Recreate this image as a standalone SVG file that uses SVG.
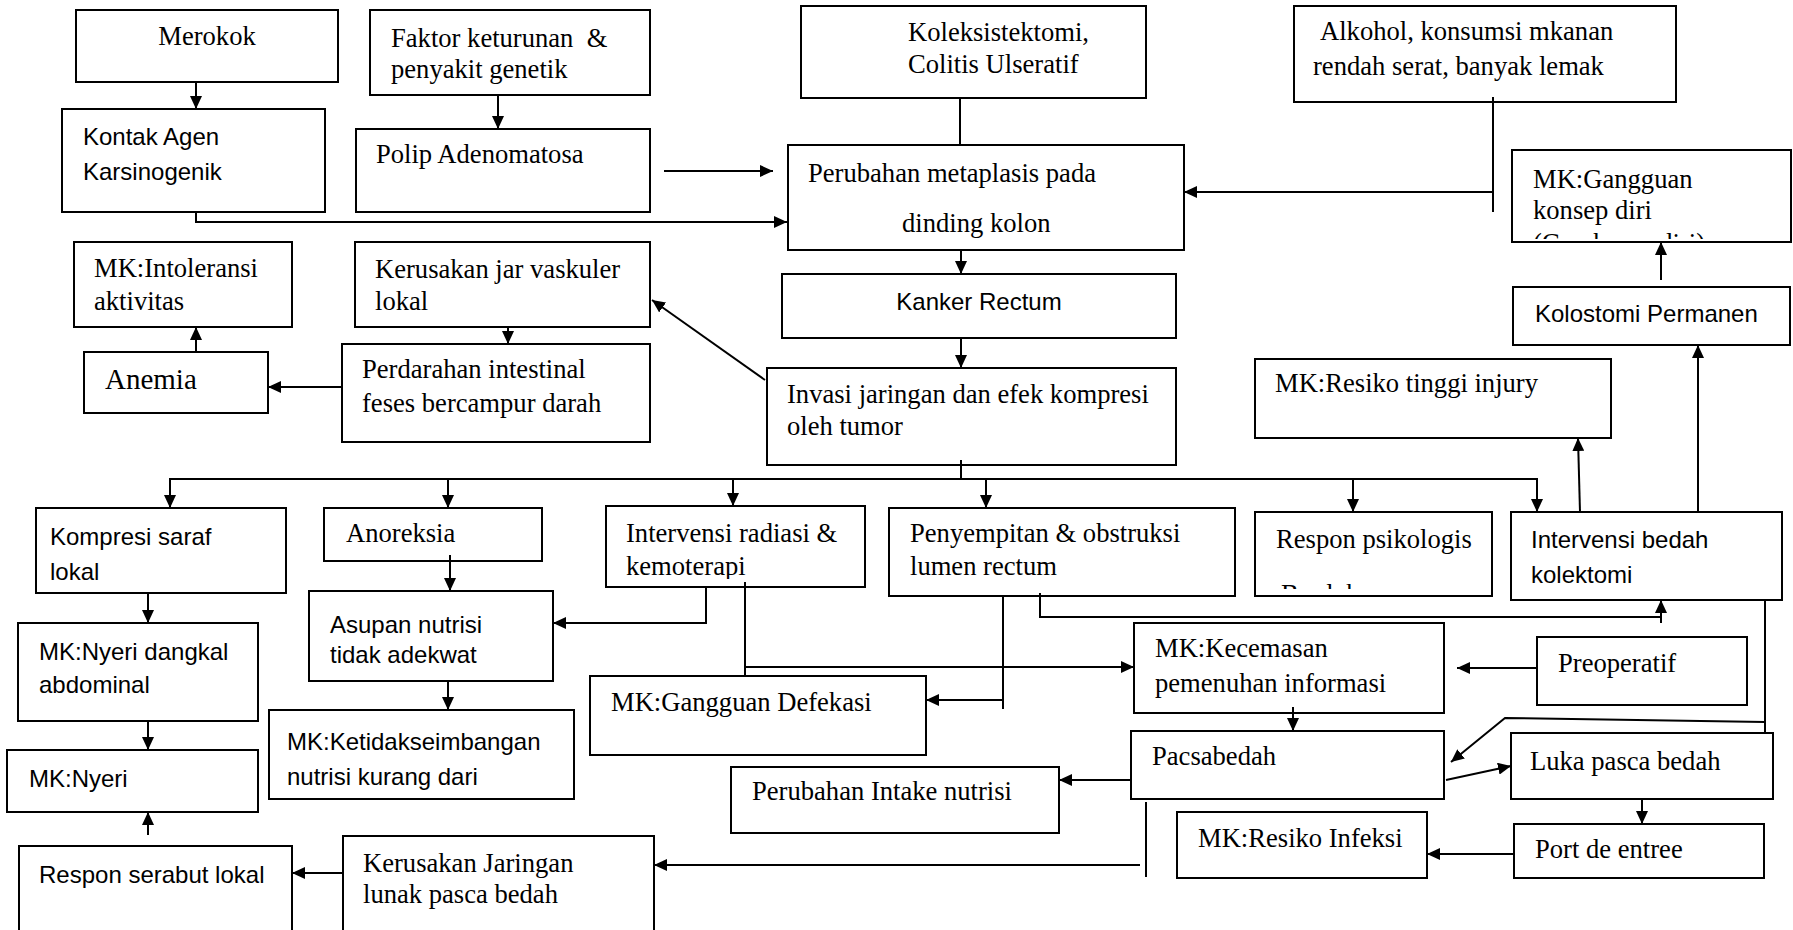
<svg xmlns="http://www.w3.org/2000/svg" width="1793" height="930" viewBox="0 0 1793 930">
<style>
rect.b{fill:#fff;stroke:#000;stroke-width:2}
text{fill:#000}
.s{font-family:"Liberation Serif","Times New Roman",serif;font-size:26.6px}
.a{font-family:"Liberation Sans",Arial,sans-serif;font-size:24px}
.c line,.c polyline{stroke:#000;stroke-width:2;fill:none}
</style>
<defs>
<marker id="ah" markerUnits="userSpaceOnUse" viewBox="0 0 13 12" refX="13" refY="6" markerWidth="13" markerHeight="12" orient="auto">
<path d="M0,0 L13,6 L0,12 z" fill="#000"/>
</marker>
<clipPath id="clipG"><rect x="1512" y="150" width="279" height="89"/></clipPath>
<clipPath id="clipR"><rect x="1255" y="512" width="237" height="77"/></clipPath>
<clipPath id="clipK"><rect x="606" y="506" width="259" height="73"/></clipPath>
</defs>
<rect width="1793" height="930" fill="#fff"/>

<g id="merokok"><rect class="b" x="76" y="10" width="262" height="72"/><text class="s" x="207" y="45" text-anchor="middle">Merokok</text></g>
<g id="kontak"><rect class="b" x="62" y="109" width="263" height="103"/><text class="a" x="83" y="145">Kontak Agen</text><text class="a" x="83" y="180">Karsinogenik</text></g>
<g id="faktor"><rect class="b" x="370" y="10" width="280" height="85"/><text class="s" x="391" y="47" style="white-space:pre" xml:space="preserve">Faktor keturunan  &amp;</text><text class="s" x="391" y="78">penyakit genetik</text></g>
<g id="polip"><rect class="b" x="356" y="129" width="294" height="83"/><text class="s" x="376" y="163">Polip Adenomatosa</text></g>
<g id="koleks"><rect class="b" x="801" y="6" width="345" height="92"/><text class="s" x="908" y="41">Koleksistektomi,</text><text class="s" x="908" y="73">Colitis Ulseratif</text></g>
<g id="alkohol"><rect class="b" x="1294" y="6" width="382" height="96"/><text class="s" x="1320" y="40">Alkohol, konsumsi mkanan</text><text class="s" x="1313" y="75">rendah serat, banyak lemak</text></g>
<g id="perubahan"><rect class="b" x="788" y="145" width="396" height="105"/><text class="s" x="808" y="182">Perubahan metaplasis pada</text><text class="s" x="902" y="232">dinding kolon</text></g>
<g id="gangguan-konsep"><rect class="b" x="1512" y="150" width="279" height="92"/><text class="s" x="1533" y="188">MK:Gangguan</text><text class="s" x="1533" y="219">konsep diri</text><text class="s" x="1533" y="252" clip-path="url(#clipG)">(Gambaran diri)</text></g>
<g id="kolostomi"><rect class="b" x="1513" y="287" width="277" height="58"/><text class="a" x="1535" y="322">Kolostomi Permanen</text></g>
<g id="injury"><rect class="b" x="1255" y="359" width="356" height="79"/><text class="s" x="1275" y="392">MK:Resiko tinggi injury</text></g>
<g id="kanker"><rect class="b" x="782" y="274" width="394" height="64"/><text class="a" x="979" y="310" text-anchor="middle">Kanker Rectum</text></g>
<g id="invasi"><rect class="b" x="767" y="368" width="409" height="97"/><text class="s" x="787" y="403">Invasi jaringan dan efek kompresi</text><text class="s" x="787" y="435">oleh tumor</text></g>
<g id="intoleransi"><rect class="b" x="74" y="242" width="218" height="85"/><text class="s" x="94" y="277">MK:Intoleransi</text><text class="s" x="94" y="310">aktivitas</text></g>
<g id="kerusakan-vaskuler"><rect class="b" x="355" y="242" width="295" height="85"/><text class="s" x="375" y="278">Kerusakan jar vaskuler</text><text class="s" x="375" y="310">lokal</text></g>
<g id="anemia"><rect class="b" x="84" y="352" width="184" height="61"/><text class="s" x="105" y="389" style="font-size:29px">Anemia</text></g>
<g id="perdarahan"><rect class="b" x="342" y="344" width="308" height="98"/><text class="s" x="362" y="378">Perdarahan intestinal</text><text class="s" x="362" y="412">feses bercampur darah</text></g>
<g id="kompresi"><rect class="b" x="36" y="508" width="250" height="85"/><text class="a" x="50" y="545">Kompresi saraf</text><text class="a" x="50" y="580">lokal</text></g>
<g id="anoreksia"><rect class="b" x="324" y="508" width="218" height="53"/><text class="s" x="346" y="542">Anoreksia</text></g>
<g id="radiasi"><rect class="b" x="606" y="506" width="259" height="81"/><text class="s" x="626" y="542">Intervensi radiasi &amp;</text><text class="s" x="626" y="575" clip-path="url(#clipK)">kemoterapi</text></g>
<g id="penyempitan"><rect class="b" x="889" y="508" width="346" height="88"/><text class="s" x="910" y="542">Penyempitan &amp; obstruksi</text><text class="s" x="910" y="575">lumen rectum</text></g>
<g id="respon-psikologis"><rect class="b" x="1255" y="512" width="237" height="84"/><text class="s" x="1276" y="548">Respon psikologis</text><text class="s" x="1281" y="603" clip-path="url(#clipR)">Berduka</text></g>
<g id="bedah"><rect class="b" x="1511" y="512" width="271" height="88"/><text class="a" x="1531" y="548">Intervensi bedah</text><text class="a" x="1531" y="583">kolektomi</text></g>
<g id="asupan"><rect class="b" x="309" y="591" width="244" height="90"/><text class="a" x="330" y="633">Asupan nutrisi</text><text class="a" x="330" y="663">tidak adekwat</text></g>
<g id="nyeri-dangkal"><rect class="b" x="18" y="623" width="240" height="98"/><text class="a" x="39" y="660">MK:Nyeri dangkal</text><text class="a" x="39" y="693">abdominal</text></g>
<g id="ketidakseimbangan"><rect class="b" x="269" y="710" width="305" height="89"/><text class="a" x="287" y="750">MK:Ketidakseimbangan</text><text class="a" x="287" y="785">nutrisi kurang dari</text></g>
<g id="defekasi"><rect class="b" x="590" y="676" width="336" height="79"/><text class="s" x="611" y="711">MK:Gangguan Defekasi</text></g>
<g id="kecemasan"><rect class="b" x="1134" y="623" width="310" height="90"/><text class="s" x="1155" y="657">MK:Kecemasan</text><text class="s" x="1155" y="692">pemenuhan informasi</text></g>
<g id="preoperatif"><rect class="b" x="1537" y="637" width="210" height="68"/><text class="s" x="1558" y="672">Preoperatif</text></g>
<g id="pacsabedah"><rect class="b" x="1131" y="731" width="313" height="68"/><text class="s" x="1152" y="765">Pacsabedah</text></g>
<g id="intake"><rect class="b" x="731" y="767" width="328" height="66"/><text class="s" x="752" y="800">Perubahan Intake nutrisi</text></g>
<g id="luka"><rect class="b" x="1511" y="733" width="262" height="66"/><text class="s" x="1530" y="770">Luka pasca bedah</text></g>
<g id="port"><rect class="b" x="1514" y="824" width="250" height="54"/><text class="s" x="1535" y="858">Port de entree</text></g>
<g id="resiko-infeksi"><rect class="b" x="1177" y="812" width="250" height="66"/><text class="s" x="1198" y="847">MK:Resiko Infeksi</text></g>
<g id="nyeri"><rect class="b" x="7" y="750" width="251" height="62"/><text class="a" x="29" y="787">MK:Nyeri</text></g>
<g id="respon-serabut"><rect class="b" x="19" y="846" width="273" height="88"/><text class="a" x="39" y="883">Respon serabut lokal</text></g>
<g id="kerusakan-jaringan"><rect class="b" x="343" y="836" width="311" height="98"/><text class="s" x="363" y="872">Kerusakan Jaringan</text><text class="s" x="363" y="903">lunak pasca bedah</text></g>

<g id="connectors" class="c">
<line x1="196" y1="82" x2="196" y2="109" marker-end="url(#ah)"/>
<line x1="498" y1="95" x2="498" y2="129" marker-end="url(#ah)"/>
<polyline points="196,212 196,222 787,222" marker-end="url(#ah)"/>
<line x1="664" y1="171" x2="773" y2="171" marker-end="url(#ah)"/>
<line x1="960" y1="98" x2="960" y2="145"/>
<line x1="1493" y1="97" x2="1493" y2="212"/>
<line x1="1493" y1="192" x2="1184" y2="192" marker-end="url(#ah)"/>
<line x1="961" y1="250" x2="961" y2="274" marker-end="url(#ah)"/>
<line x1="961" y1="338" x2="961" y2="368" marker-end="url(#ah)"/>
<line x1="765" y1="380" x2="652" y2="300" marker-end="url(#ah)"/>
<line x1="508" y1="327" x2="508" y2="344" marker-end="url(#ah)"/>
<line x1="342" y1="387" x2="268" y2="387" marker-end="url(#ah)"/>
<line x1="196" y1="352" x2="196" y2="327" marker-end="url(#ah)"/>
<line x1="961" y1="460" x2="961" y2="479"/>
<line x1="169" y1="479" x2="1538" y2="479"/>
<line x1="170" y1="479" x2="170" y2="508" marker-end="url(#ah)"/>
<line x1="448" y1="479" x2="448" y2="508" marker-end="url(#ah)"/>
<line x1="733" y1="479" x2="733" y2="506" marker-end="url(#ah)"/>
<line x1="986" y1="479" x2="986" y2="508" marker-end="url(#ah)"/>
<line x1="1353" y1="479" x2="1353" y2="512" marker-end="url(#ah)"/>
<line x1="1537" y1="479" x2="1537" y2="512" marker-end="url(#ah)"/>
<line x1="148" y1="593" x2="148" y2="623" marker-end="url(#ah)"/>
<line x1="148" y1="721" x2="148" y2="750" marker-end="url(#ah)"/>
<line x1="148" y1="835" x2="148" y2="812" marker-end="url(#ah)"/>
<line x1="450" y1="555" x2="450" y2="591" marker-end="url(#ah)"/>
<polyline points="706,587 706,623 553,623" marker-end="url(#ah)"/>
<line x1="448" y1="681" x2="448" y2="710" marker-end="url(#ah)"/>
<line x1="745" y1="582" x2="745" y2="676"/>
<line x1="745" y1="667" x2="1134" y2="667" marker-end="url(#ah)"/>
<line x1="1003" y1="596" x2="1003" y2="709"/>
<line x1="1003" y1="700" x2="926" y2="700" marker-end="url(#ah)"/>
<polyline points="1040,593 1040,617 1661,617"/>
<line x1="1661" y1="623" x2="1661" y2="600" marker-end="url(#ah)"/>
<line x1="1580" y1="512" x2="1578" y2="438" marker-end="url(#ah)"/>
<line x1="1698" y1="512" x2="1698" y2="345" marker-end="url(#ah)"/>
<line x1="1661" y1="280" x2="1661" y2="242" marker-end="url(#ah)"/>
<line x1="1537" y1="668" x2="1457" y2="668" marker-end="url(#ah)"/>
<line x1="1293" y1="707" x2="1293" y2="731" marker-end="url(#ah)"/>
<line x1="1765" y1="600" x2="1765" y2="733"/>
<polyline points="1765,722 1505,718 1451,762" marker-end="url(#ah)"/>
<line x1="1131" y1="780" x2="1059" y2="780" marker-end="url(#ah)"/>
<line x1="1446" y1="780" x2="1511" y2="766" marker-end="url(#ah)"/>
<line x1="1642" y1="799" x2="1642" y2="824" marker-end="url(#ah)"/>
<line x1="1514" y1="854" x2="1427" y2="854" marker-end="url(#ah)"/>
<line x1="1146" y1="802" x2="1146" y2="877"/>
<line x1="1140" y1="865" x2="654" y2="865" marker-end="url(#ah)"/>
<line x1="343" y1="873" x2="292" y2="873" marker-end="url(#ah)"/>
</g>
</svg>
